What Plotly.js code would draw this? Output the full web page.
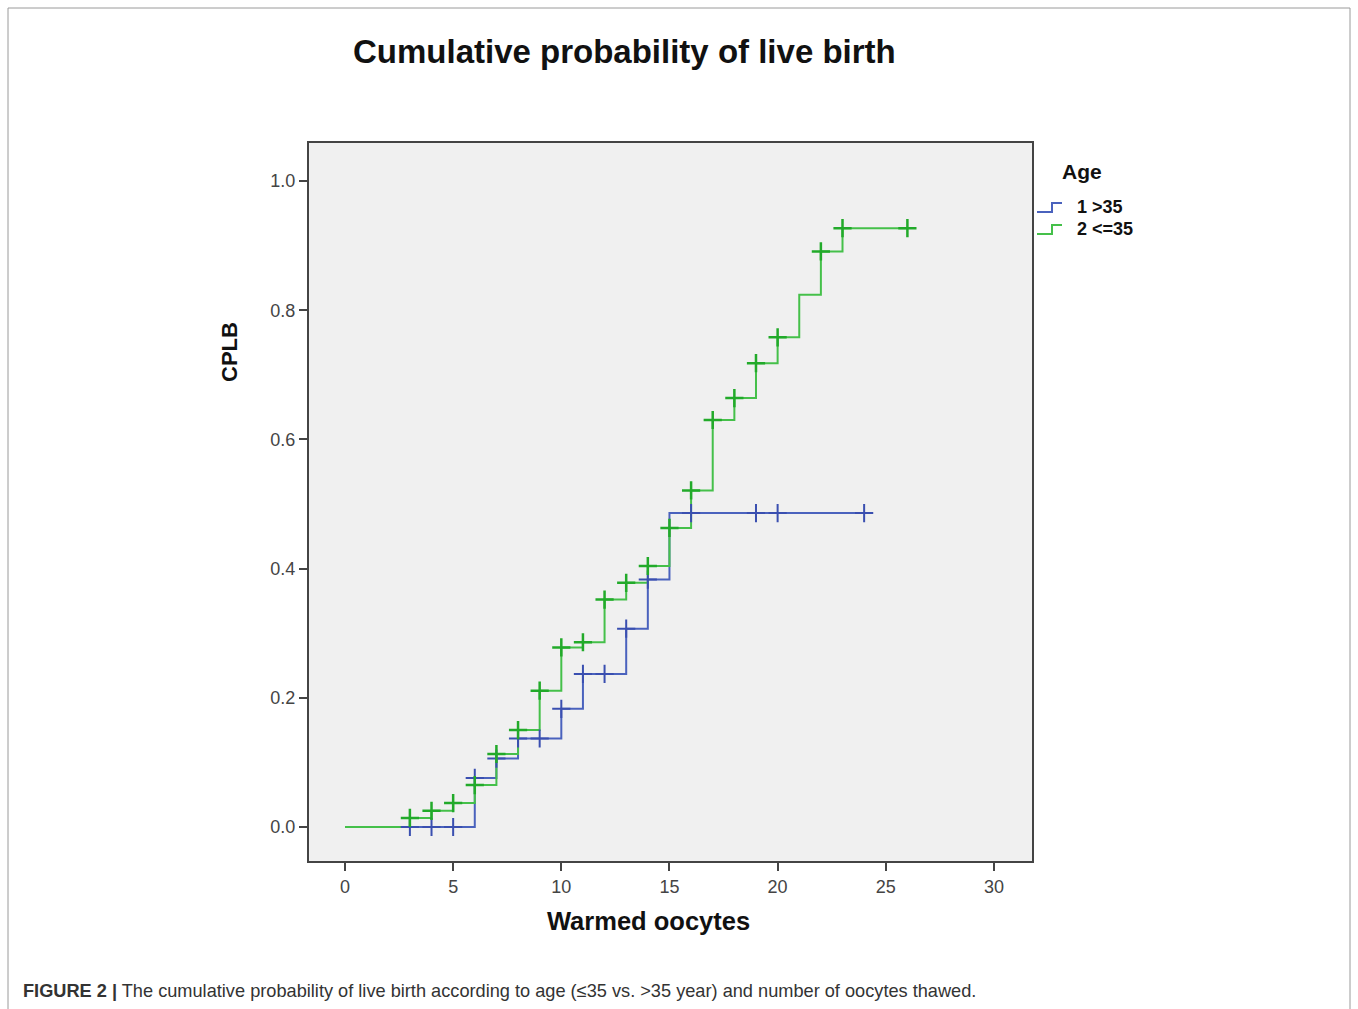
<!DOCTYPE html>
<html>
<head>
<meta charset="utf-8">
<script src="https://cdn.plot.ly/plotly-3.0.1.min.js"></script>
<style>
  html, body { margin: 0; padding: 0; background: #ffffff; }
  #chart { width: 1358px; height: 1009px; }
</style>
</head>
<body>
<div id="chart"></div>
<script>
// ---- Data ----
// Group 1: Age > 35 (blue)
const timesOver35 = [1, 6, 7, 8, 10, 11, 13, 14, 15, 24];
const cplbOver35  = [0.000, 0.076, 0.106, 0.137, 0.183, 0.237, 0.307, 0.383, 0.486, 0.486];
const censorOver35 = [3, 4, 5, 6, 7, 8, 9, 10, 11, 12, 13, 14, 16, 19, 20, 24];

// Group 2: Age <= 35 (green)
const timesUnder35 = [0, 3, 4, 5, 6, 7, 8, 9, 10, 11, 12, 13, 14, 15, 16, 17, 18, 19, 20, 21, 22, 23, 26];
const cplbUnder35  = [0.000, 0.014, 0.025, 0.037, 0.065, 0.113, 0.150, 0.211, 0.278, 0.286, 0.352, 0.378,
                      0.404, 0.463, 0.521, 0.630, 0.664, 0.718, 0.758, 0.824, 0.891, 0.927, 0.927];
const censorUnder35 = [3, 4, 5, 6, 7, 8, 9, 10, 11, 12, 13, 14, 15, 16, 17, 18, 19, 20, 22, 23, 26];

const seriesNames = ["1 >35", "2 <=35"];
const xTicks = [0, 5, 10, 15, 20, 25, 30];
const yTicks = [0.0, 0.2, 0.4, 0.6, 0.8, 1.0];

// ---- Helpers ----
function stepValueAt(times, vals, t) {
  let v = vals[0];
  for (let i = 0; i < times.length; i++) { if (times[i] <= t) v = vals[i]; }
  return v;
}
const W = 1358, H = 1009;
const PL = 309, PR = 1032, PT = 143, PB = 861;
const px = x => (x - PL) / (PR - PL);
const py = y => (PB - y) / (PB - PT);

const BLUE = "#4a62bd", BLUE_D = "#3a4fb0";
const GREEN = "#45c04a", GREEN_D = "#22aa2a";
const FONT = "Liberation Sans, Arial";

const traces = [
  { x: timesOver35, y: cplbOver35, type: "scatter", mode: "lines", line: { shape: "hv", color: BLUE, width: 2 },
    name: seriesNames[0], showlegend: false, hoverinfo: "x+y" },
  { x: timesUnder35, y: cplbUnder35, type: "scatter", mode: "lines", line: { shape: "hv", color: GREEN, width: 2 },
    name: seriesNames[1], showlegend: false, hoverinfo: "x+y" },
  { x: censorOver35, y: censorOver35.map(t => stepValueAt(timesOver35, cplbOver35, t)), type: "scatter", mode: "markers",
    marker: { symbol: "cross-thin", size: 13, line: { color: BLUE_D, width: 2 } }, showlegend: false, hoverinfo: "skip" },
  { x: censorUnder35, y: censorUnder35.map(t => stepValueAt(timesUnder35, cplbUnder35, t)), type: "scatter", mode: "markers",
    marker: { symbol: "cross-thin", size: 13, line: { color: GREEN_D, width: 2.5 } }, showlegend: false, hoverinfo: "skip" }
];

// legend step icons (pixel -> paper)
function stepIcon(x0, yc, color) {
  const path = `M ${px(x0)} ${py(yc + 5)} L ${px(x0 + 15)} ${py(yc + 5)} L ${px(x0 + 15)} ${py(yc - 4)} L ${px(x0 + 25)} ${py(yc - 4)}`;
  return { type: "path", xref: "paper", yref: "paper", path: path, line: { color: color, width: 2 } };
}

const shapes = [
  // outer figure frame
  { type: "rect", xref: "paper", yref: "paper", x0: px(8), x1: px(1350), y0: py(1015), y1: py(8),
    line: { color: "#9a9a9a", width: 1 }, fillcolor: "rgba(0,0,0,0)", layer: "below" },
  stepIcon(1037, 207, BLUE),
  stepIcon(1037, 229, GREEN)
];

const annotations = [
  { text: "<b>Cumulative probability of live birth</b>", xref: "paper", yref: "paper", x: px(624), y: py(52),
    xanchor: "center", yanchor: "middle", showarrow: false, font: { family: FONT, size: 33, color: "#111" } },
  { text: "<b>CPLB</b>", xref: "paper", yref: "paper", x: px(229), y: py(352), textangle: -90,
    xanchor: "center", yanchor: "middle", showarrow: false, font: { family: FONT, size: 22, color: "#111" } },
  { text: "<b>Warmed oocytes</b>", xref: "paper", yref: "paper", x: px(648), y: py(921),
    xanchor: "center", yanchor: "middle", showarrow: false, font: { family: FONT, size: 25.5, color: "#111" } },
  { text: "<b>Age</b>", xref: "paper", yref: "paper", x: px(1060), y: py(172),
    xanchor: "left", yanchor: "middle", showarrow: false, font: { family: FONT, size: 21, color: "#111" } },
  { text: "<b>" + seriesNames[0].replace(">", "&gt;") + "</b>", xref: "paper", yref: "paper", x: px(1075), y: py(207),
    xanchor: "left", yanchor: "middle", showarrow: false, font: { family: FONT, size: 18, color: "#111" } },
  { text: "<b>" + seriesNames[1].replace("<", "&lt;") + "</b>", xref: "paper", yref: "paper", x: px(1075), y: py(229),
    xanchor: "left", yanchor: "middle", showarrow: false, font: { family: FONT, size: 18, color: "#111" } },
  { text: "<b>FIGURE 2 |</b> The cumulative probability of live birth according to age (≤35 vs. &gt;35 year) and number of oocytes thawed.",
    xref: "paper", yref: "paper", x: px(21), y: py(991),
    xanchor: "left", yanchor: "middle", showarrow: false, font: { family: FONT, size: 18.2, color: "#333" } }
];

const layout = {
  width: W, height: H,
  paper_bgcolor: "#ffffff",
  plot_bgcolor: "#f0f0f0",
  margin: { l: PL, r: W - PR, t: PT, b: H - PB, pad: 0 },
  showlegend: false,
  xaxis: {
    range: [-1.664, 31.76], tickvals: xTicks, ticktext: xTicks.map(String),
    ticks: "outside", ticklen: 8, tickwidth: 2, tickcolor: "#444",
    showline: true, mirror: true, linecolor: "#444", linewidth: 2,
    showgrid: false, zeroline: false,
    tickfont: { family: FONT, size: 18, color: "#444" }
  },
  yaxis: {
    range: [-0.0526, 1.0588], tickvals: yTicks, ticktext: yTicks.map(v => v.toFixed(1)),
    ticks: "outside", ticklen: 8, tickwidth: 2, tickcolor: "#444",
    showline: true, mirror: true, linecolor: "#444", linewidth: 2,
    showgrid: false, zeroline: false,
    tickfont: { family: FONT, size: 18, color: "#444" }
  },
  shapes: shapes,
  annotations: annotations
};

Plotly.newPlot("chart", traces, layout, { displayModeBar: false, staticPlot: true });
</script>
</body>
</html>
